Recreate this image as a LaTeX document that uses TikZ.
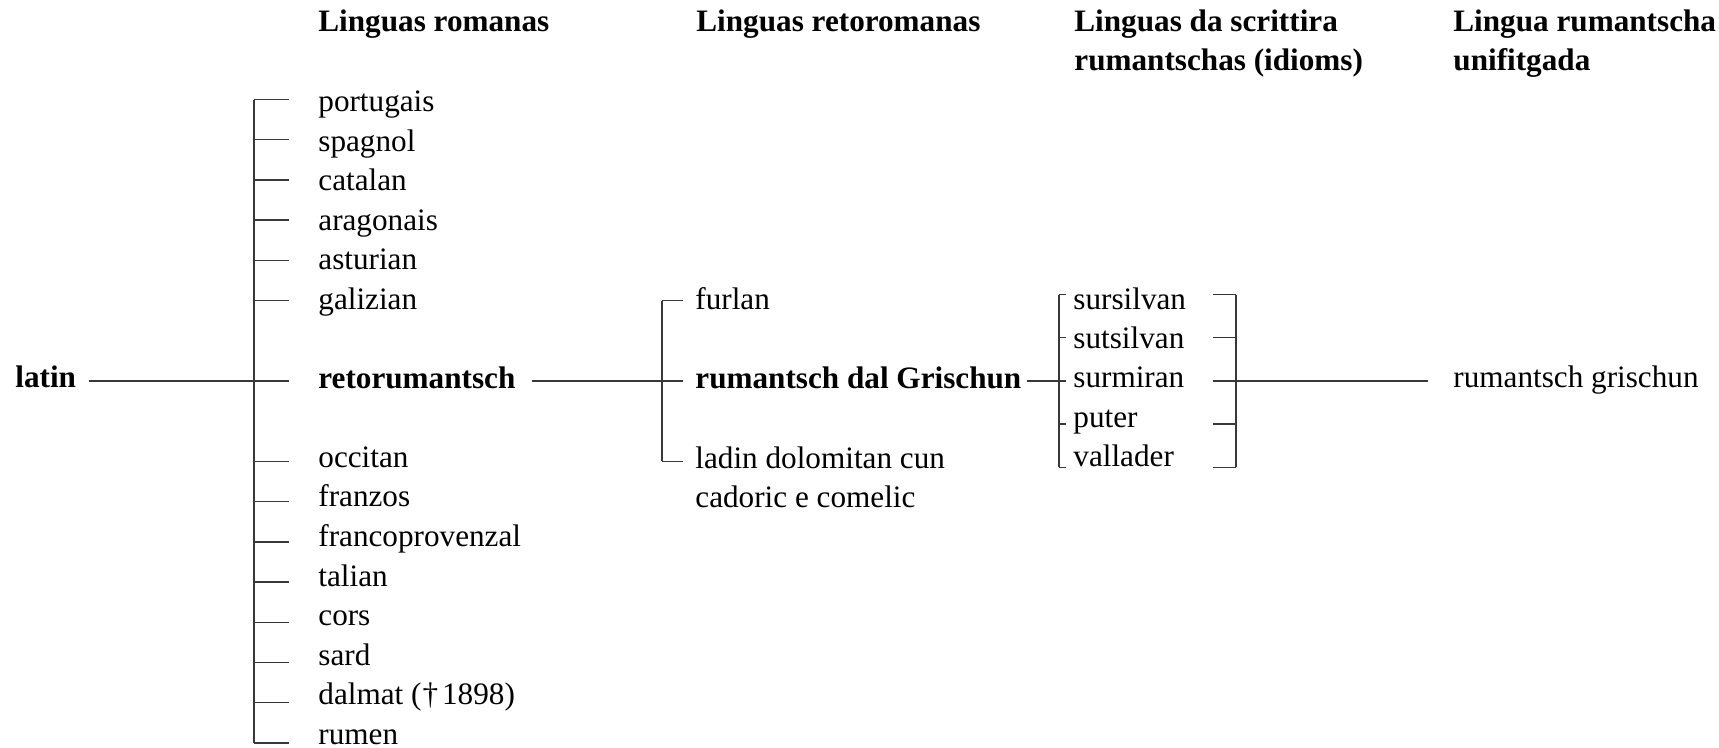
\documentclass[tikz,border=0pt]{standalone}
\usepackage{fontspec}
\setmainfont{Liberation Serif}
\begin{document}
\begin{tikzpicture}[x=0.5pt,y=-0.5pt,
  lbl/.style={inner sep=0pt, anchor=base west, font=\fontsize{15.6}{19.8}\selectfont},
  hdr/.style={lbl, font=\fontsize{15.6}{19.8}\selectfont\bfseries},
  link/.style={draw=black!78, line width=0.7pt}]
\useasboundingbox (0,0) rectangle (1719,748);

% headers
\node[hdr] (h1)  at (318,32)  {Linguas romanas};
\node[hdr] (h2)  at (696,32)  {Linguas retoromanas};
\node[hdr] (h3a) at (1074,32) {Linguas da scrittira};
\node[hdr] (h3b) at (1074,71) {rumantschas (idioms)};
\node[hdr] (h4a) at (1453,32) {Lingua rumantscha};
\node[hdr] (h4b) at (1453,71) {unifitgada};

% Romance languages
\foreach \k/\nm/\txt in {0/por/{portugais}, 1/spa/{spagnol}, 2/cat/{catalan},
  3/ara/{aragonais}, 4/ast/{asturian}, 5/gal/{galizian},
  9/occ/{occitan}, 10/fra/{franzos}, 11/frp/{francoprovenzal}, 12/tal/{talian},
  13/cor/{cors}, 14/sar/{sard}, 15/dal/{dalmat (\kern0.5pt†\kern2pt1898)}} {
  \coordinate (t\nm) at (254,{381+40.2*(\k-7)});
  \node[lbl] (\nm) at (318,{112+39.5*\k}) {\txt};
  \draw[link] (t\nm) -- ([xshift=-14.5pt]\nm.west |- t\nm);
}
\coordinate (trum) at (254,{381+40.2*9});
\node[lbl, text depth=0pt] (rum) at (318,{112+39.5*16}) {rumen};
\draw[link] (trum) -- ([xshift=-14.5pt]rum.west |- trum);

\coordinate (tret) at (254,381);
\node[hdr] (retor) at (318,389) {retorumantsch};
\draw[link] (tret) -- ([xshift=-14.5pt]retor.west |- tret);
\draw[link] (tpor) -- (trum);

% latin
\node[hdr] (latin) at (15,388) {latin};
\draw[link] ([xshift=6.5pt]latin.east |- tret) -- (tret);

% Rhaeto-Romance
\coordinate (rfur) at (662,300.6);
\coordinate (rrdg) at (662,381);
\coordinate (rlad) at (662,461.4);
\draw[link] ([xshift=8.2pt]retor.east |- rrdg) -- (rrdg);
\draw[link] (rfur) -- (rlad);
\node[lbl] (furlan) at (695,310) {furlan};
\node[hdr] (rdg) at (695,389) {rumantsch dal Grischun};
\node[lbl, align=left] (ladin) at (695,508) {ladin dolomitan cun\\cadoric e comelic};
\draw[link] (rfur) -- ([xshift=-6pt]furlan.west |- rfur);
\draw[link] (rrdg) -- ([xshift=-6pt]rdg.west |- rrdg);
\draw[link] (rlad) -- ([xshift=-6pt]ladin.west |- rlad);

% idioms
\foreach \j/\nm in {0/sursilvan, 1/sutsilvan, 2/surmiran, 3/puter, 4/vallader} {
  \coordinate (il\j) at (1059,{381+43.2*(\j-2)});
  \coordinate (ir\j) at (1236,{381+43.2*(\j-2)});
  \node[lbl] (\nm) at (1073,{388+39.3*(\j-2)}) {\nm};
  \draw[link] (il\j) -- ++(7,0);
  \draw[link] (ir\j) -- ++(-23,0);
}
\draw[link] (il0) -- (il4);
\draw[link] (ir0) -- (ir4);
\draw[link] ([xshift=2.5pt]rdg.east |- il2) -- (il2);

% unified
\node[lbl] (rg) at (1453,388) {rumantsch grischun};
\draw[link] (ir2) -- ([xshift=-12.5pt]rg.west |- ir2);
\end{tikzpicture}
\end{document}
